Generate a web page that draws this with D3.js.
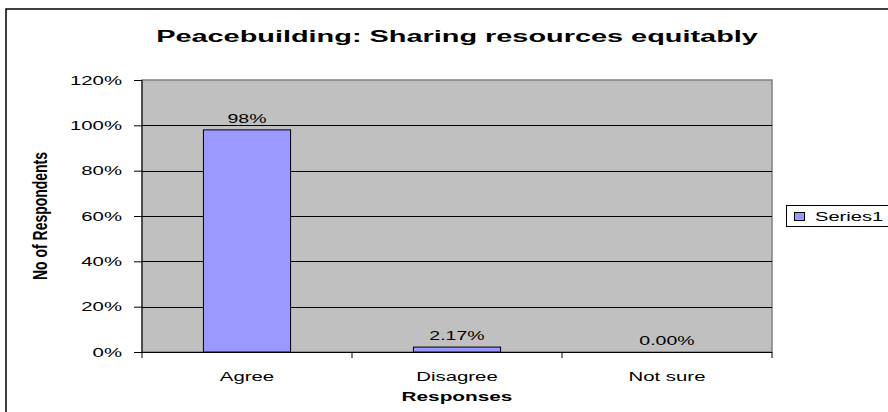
<!DOCTYPE html>
<html>
<head>
<meta charset="utf-8">
<script src="https://cdn.jsdelivr.net/npm/d3@7"></script>
<style>
  html, body { margin: 0; padding: 0; background: #fff; }
  svg { display: block; font-family: "Liberation Sans", Arial, sans-serif; }
</style>
</head>
<body>
<svg id="chart" width="888" height="412"></svg>
<script>
// Chart data
const categories = ["Agree", "Disagree", "Not sure"];
const values = [98, 2.17, 0];
const valueLabels = ["98%", "2.17%", "0.00%"];
const yTicks = [0, 20, 40, 60, 80, 100, 120];
const seriesName = "Series1";
const chartTitle = "Peacebuilding: Sharing resources equitably";
const xTitle = "Responses";
const yTitle = "No of Respondents";

// The chart is laid out wide, so its lettering is drawn horizontally widened.
const SX = 1.63;

const svg = d3.select("#chart");
const plot = { left: 142, right: 772, top: 80, bottom: 352 };

// Draws a horizontally widened text label anchored at (x, y)
function wideText(g, x, y, str, opts = {}) {
  return g.append("text")
    .attr("transform", `translate(${x},${y}) scale(${opts.sx || SX},1)`)
    .attr("text-anchor", opts.anchor || "middle")
    .attr("font-size", opts.size || 13)
    .attr("font-weight", opts.weight || "normal")
    .attr("fill", "#000")
    .text(str);
}

// Outer chart frame
svg.append("rect")
  .attr("x", 6).attr("y", 9)
  .attr("width", 920).attr("height", 440)
  .attr("fill", "#fff").attr("stroke", "#000").attr("stroke-width", 1.5);

const x = d3.scaleBand().domain(categories).range([plot.left, plot.right]).paddingInner(0).paddingOuter(0);
const y = d3.scaleLinear().domain([0, 120]).range([plot.bottom, plot.top]);

// Plot area background
svg.append("rect")
  .attr("x", plot.left).attr("y", plot.top)
  .attr("width", plot.right - plot.left).attr("height", plot.bottom - plot.top)
  .attr("fill", "#c0c0c0").attr("stroke", "#808080").attr("stroke-width", 1.5);

// Gridlines
svg.append("g").selectAll("line")
  .data(yTicks.filter(d => d > 0 && d < 120))
  .join("line")
  .attr("x1", plot.left).attr("x2", plot.right)
  .attr("y1", d => Math.round(y(d)) + 0.5).attr("y2", d => Math.round(y(d)) + 0.5)
  .attr("stroke", "#000").attr("stroke-width", 1);

// Bars
const bw = x.bandwidth() * 0.415;
svg.append("g").selectAll("rect")
  .data(values)
  .join("rect")
  .attr("x", (d, i) => x(categories[i]) + (x.bandwidth() - bw) / 2)
  .attr("y", d => y(d))
  .attr("width", bw)
  .attr("height", d => y(0) - y(d))
  .attr("fill", "#9999ff")
  .attr("stroke", "#000").attr("stroke-width", 1)
  .attr("visibility", d => d > 0 ? "visible" : "hidden");

// Value labels
const valG = svg.append("g");
values.forEach((d, i) => {
  wideText(valG, x(categories[i]) + x.bandwidth() / 2, y(d) - 7, valueLabels[i], { sx: 1.5 });
});

// Y axis: line, ticks, labels
const yAxis = svg.append("g")
  .attr("transform", `translate(${plot.left},0)`)
  .call(d3.axisLeft(y).tickValues(yTicks).tickFormat("").tickSize(8));
yAxis.select(".domain").attr("stroke", "#000").attr("d", `M0,${plot.top}V${plot.bottom}`);
yAxis.selectAll(".tick line").attr("stroke", "#000");
const yLab = svg.append("g");
yTicks.forEach(t => {
  wideText(yLab, plot.left - 20, y(t) + 4.5, t + "%", { anchor: "end", size: 12.5 });
});

// X axis with ticks at category boundaries
const xAxis = svg.append("g").attr("transform", `translate(0,${plot.bottom})`);
xAxis.append("line")
  .attr("x1", plot.left - 8).attr("x2", plot.right)
  .attr("y1", 0.5).attr("y2", 0.5).attr("stroke", "#000");
const boundaries = categories.map(c => x(c)).concat([plot.right]);
xAxis.selectAll("line.b")
  .data(boundaries)
  .join("line").attr("class", "b")
  .attr("x1", d => d).attr("x2", d => d)
  .attr("y1", 0).attr("y2", 6)
  .attr("stroke", "#000");
categories.forEach(c => {
  wideText(xAxis, x(c) + x.bandwidth() / 2, 29, c, { size: 12.5 });
});

// Titles
wideText(svg, (plot.left + plot.right) / 2, 42, chartTitle, { size: 17, weight: "bold", sx: 1.7 });
wideText(svg, (plot.left + plot.right) / 2, 401, xTitle, { size: 13, weight: "bold", sx: 1.6 });

svg.append("text")
  .attr("transform", `translate(47,${(plot.top + plot.bottom) / 2}) scale(${SX},1) rotate(-90)`)
  .attr("text-anchor", "middle")
  .attr("font-size", 12.5).attr("font-weight", "bold")
  .attr("textLength", 128).attr("lengthAdjust", "spacingAndGlyphs")
  .text(yTitle);

// Legend
const legend = svg.append("g").attr("transform", "translate(786,205)");
legend.append("rect")
  .attr("x", 0.5).attr("y", 0.5).attr("width", 130).attr("height", 21)
  .attr("fill", "#fff").attr("stroke", "#000");
legend.append("rect")
  .attr("x", 8.5).attr("y", 7.5).attr("width", 10).attr("height", 8)
  .attr("fill", "#9999ff").attr("stroke", "#000");
wideText(legend, 29, 16, seriesName, { anchor: "start", size: 13, sx: 1.55 });
</script>
</body>
</html>
